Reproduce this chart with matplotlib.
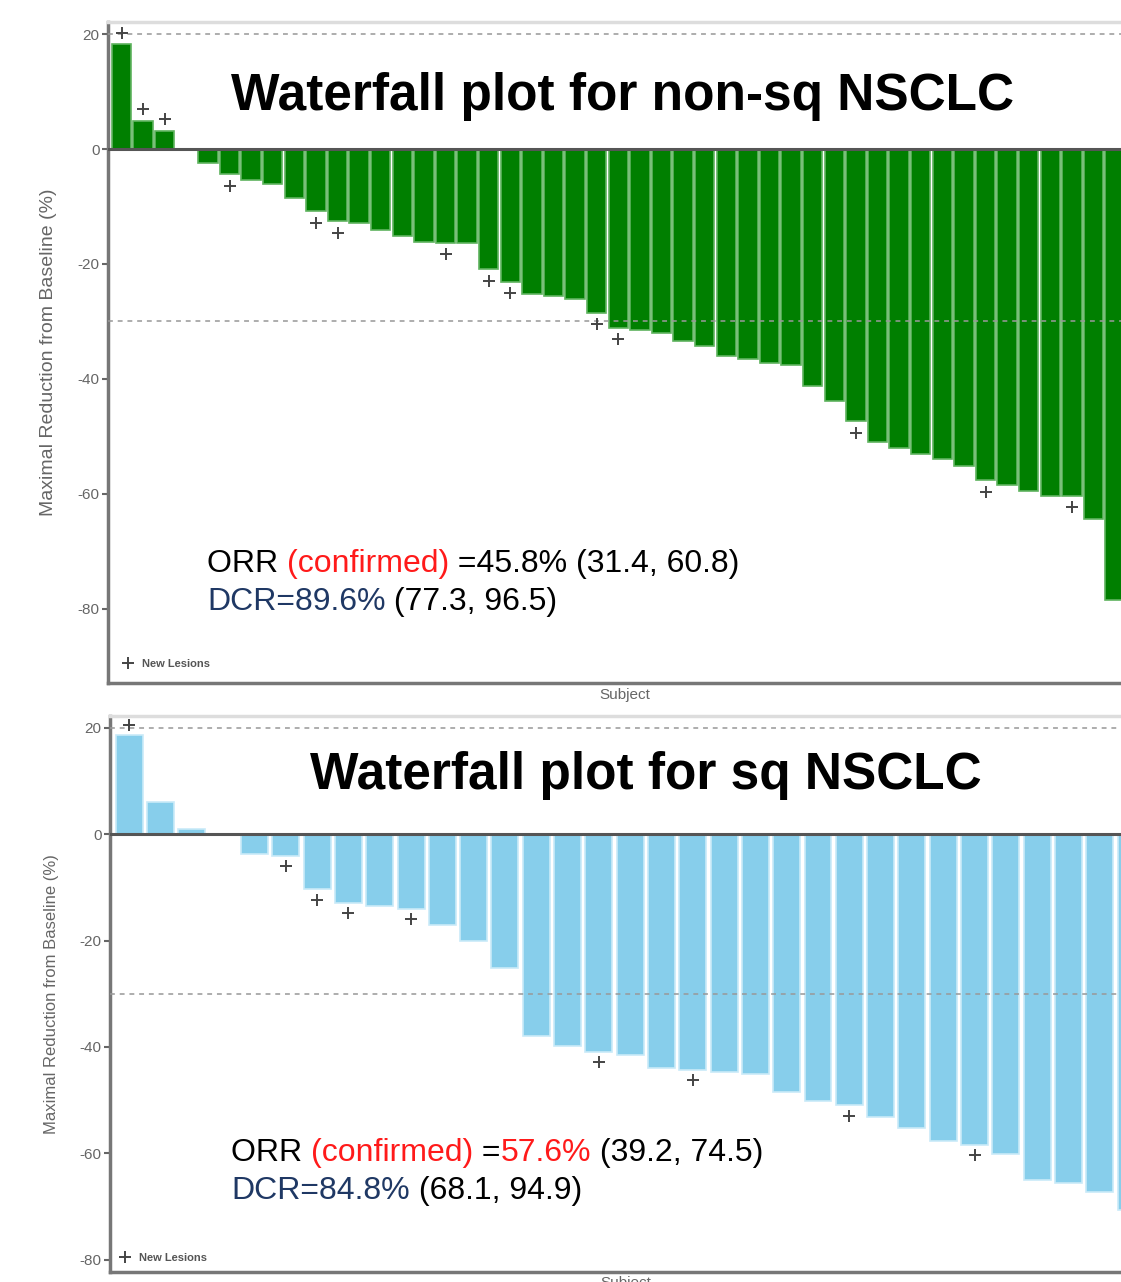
import numpy as np
import matplotlib
matplotlib.use("Agg")
import matplotlib.pyplot as plt
from matplotlib.lines import Line2D

plt.rcParams['font.family'] = ['Liberation Sans', 'DejaVu Sans']
plt.rcParams['axes.unicode_minus'] = False

# non-squamous NSCLC, max reduction from baseline (%), sorted
nonsq_values = [18.2, 4.9, 3.2, 0.0, -2.5, -4.4, -5.4, -6.0, -8.6, -10.8,
                -12.6, -12.8, -14.1, -15.1, -16.1, -16.3, -16.4, -20.9, -23.1, -25.3,
                -25.6, -26.1, -28.5, -31.1, -31.4, -32.0, -33.4, -34.3, -36.0, -36.6,
                -37.3, -37.6, -41.3, -43.9, -47.4, -50.9, -52.1, -53.1, -54.0, -55.2,
                -57.6, -58.4, -59.5, -60.3, -60.3, -64.4, -78.5]
# subjects (1-based) with new lesions
nonsq_new = [1, 2, 3, 6, 10, 11, 16, 18, 19, 23, 24, 35, 41, 45]

sq_values = [18.6, 6.1, 0.9, 0.0, -3.8, -4.1, -10.4, -13.0, -13.5, -14.0,
             -17.1, -20.0, -25.1, -37.9, -39.9, -40.9, -41.5, -44.0, -44.3, -44.8,
             -45.1, -48.4, -50.1, -51.0, -53.1, -55.2, -57.6, -58.4, -60.1, -65.1,
             -65.6, -67.2, -70.7]
sq_new = [1, 6, 7, 8, 10, 16, 19, 24, 28]

yticks = [20, 0, -20, -40, -60, -80]

nonsq_title = "Waterfall plot for non-sq NSCLC"
sq_title = "Waterfall plot for sq NSCLC"

RED = '#ff1a1a'
BLUE = '#1f3864'

nonsq_text = [
    [("ORR ", 'black'), ("(confirmed)", RED), (" =45.8% (31.4, 60.8)", 'black')],
    [("DCR=89.6%", BLUE), (" (77.3, 96.5)", 'black')],
]
sq_text = [
    [("ORR ", 'black'), ("(confirmed)", RED), (" =", 'black'), ("57.6%", RED),
     (" (39.2, 74.5)", 'black')],
    [("DCR=84.8%", BLUE), (" (68.1, 94.9)", 'black')],
]


def rich_text(ax, x, y, pieces, size):
    t = None
    for s, c in pieces:
        if t is None:
            t = ax.text(x, y, s, color=c, fontsize=size, transform=ax.transAxes,
                        va='baseline', ha='left')
        else:
            t = ax.annotate(s, xy=(1, 0), xycoords=t, va='bottom', ha='left',
                            color=c, fontsize=size)
    return t


def waterfall(ax, values, new_les, color, edge, width, xlim, ylim, off,
              title, title_xy, lines, text_xy, ylab_size, leg_pad):
    x = np.arange(1, len(values) + 1)
    vals = np.array(values)
    ax.bar(x, vals, width=width, color=color, edgecolor=edge, linewidth=1.2, zorder=2)
    nl = np.array(new_les)
    nv = vals[nl - 1]
    ax.plot(nl, nv + np.where(nv >= 0, off, -off), linestyle='none', marker='+',
            markersize=8, mew=1.4, color='#444444', zorder=4, clip_on=False)
    ax.axhline(0, color='#555555', lw=2.2, zorder=3)
    for yy in (20, -30):
        ax.axhline(yy, color='#999999', lw=1.4, ls=(0, (2.5, 2.5)), alpha=0.8, zorder=3)
    ax.set_xlim(*xlim)
    ax.set_ylim(*ylim)
    ax.set_yticks(yticks)
    ax.set_xticks([])
    ax.tick_params(axis='y', length=4, width=1.5, color='#666666', labelcolor='#666666',
                   labelsize=11, pad=2)
    for s in ('left', 'bottom'):
        ax.spines[s].set_color('#777777')
        ax.spines[s].set_linewidth(2.5)
    ax.spines['top'].set_color('#dddddd')
    ax.spines['top'].set_linewidth(2.5)
    ax.spines['right'].set_visible(False)
    ax.set_ylabel("Maximal Reduction from Baseline (%)", fontsize=ylab_size, color='#666666')
    ax.yaxis.set_label_coords(-0.05, 0.5)
    ax.set_xlabel("Subject", fontsize=11, color='#666666')
    ax.xaxis.set_label_coords(0.51, -0.008)
    ax.text(title_xy[0], title_xy[1], title, transform=ax.transAxes, ha='center',
            va='baseline', fontsize=37, fontweight='bold', color='black')
    for i, pieces in enumerate(lines):
        rich_text(ax, text_xy[0], text_xy[1][i], pieces, 23)
    h = Line2D([], [], linestyle='none', marker='+', markersize=8, mew=1.4, color='#444444')
    ax.legend([h], ['New Lesions'], loc='lower left', frameon=False, handlelength=1,
              handletextpad=0.8, borderaxespad=leg_pad, prop={'size': 8, 'weight': 'bold'},
              labelcolor='#555555')


fig = plt.figure(figsize=(11.21, 12.82), dpi=100)

ax1 = fig.add_axes([108 / 1121, 1 - 683 / 1282, 1 - 108 / 1121, (683 - 22) / 1282])
waterfall(ax1, nonsq_values, nonsq_new, '#007f00', '#5fb35f', 0.9,
          (0.375, 47.27), (-92.9, 22.1), 2.0,
          nonsq_title, (0.508, 0.867), nonsq_text, (0.0977, [0.168, 0.110]), 14, 0.9)

ax2 = fig.add_axes([110 / 1121, 1 - 1272 / 1282, 1 - 110 / 1121, (1272 - 716) / 1282])
waterfall(ax2, sq_values, sq_new, '#87ceeb', '#c9eaf8', 0.86,
          (0.383, 32.68), (-82.3, 22.2), 1.9,
          sq_title, (0.530, 0.8687), sq_text, (0.1197, [0.1996, 0.1313]), 12, 0.45)

fig.savefig("out.png", dpi=100)
